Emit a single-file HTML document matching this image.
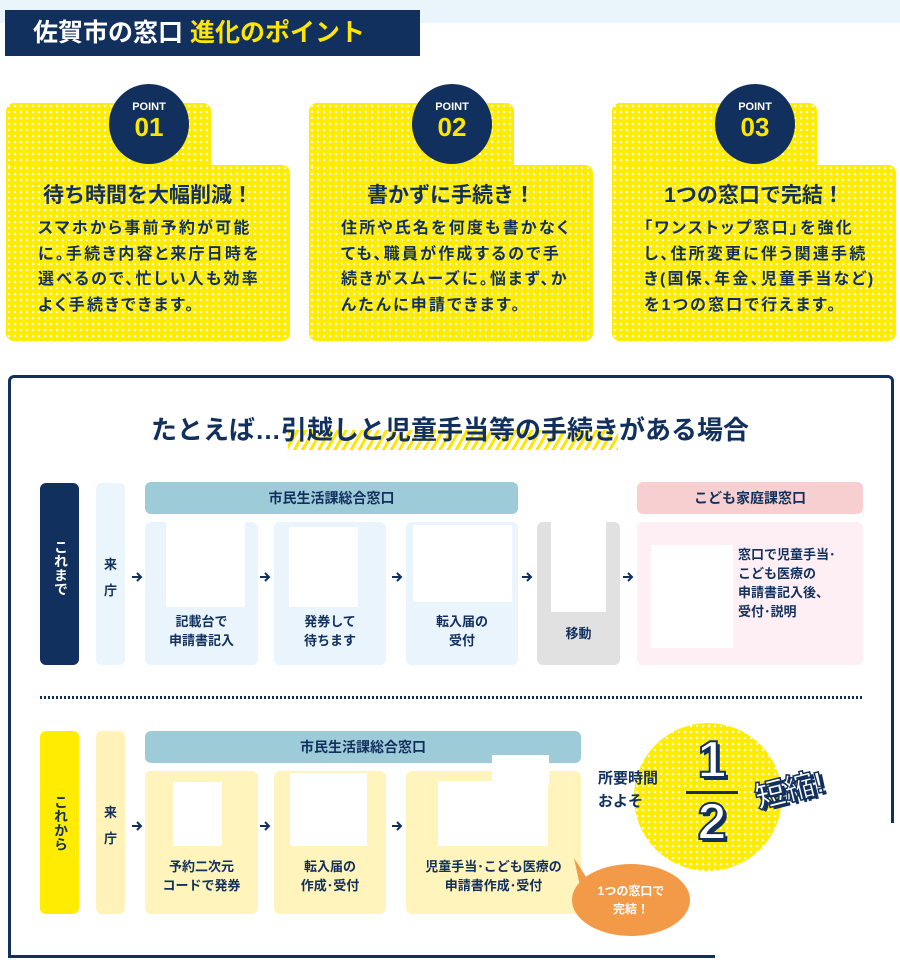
<!DOCTYPE html>
<html><head><meta charset="utf-8"><style>
*{margin:0;padding:0;box-sizing:border-box}
body{width:900px;height:964px;background:#fff;position:relative;overflow:hidden;font-family:"Liberation Sans","Noto Sans CJK JP",sans-serif;color:#12305e;font-weight:bold}
.a{position:absolute}
.dot{background-color:#ffec00;background-image:radial-gradient(circle,#fff 1px,transparent 1.4px);background-size:6px 6px}
.card{position:absolute;top:103px;width:284px;height:238px}
.card .p1{position:absolute;left:0;top:0;width:205px;height:238px;border-radius:8px}
.card .p2{position:absolute;left:0;top:62px;width:284px;height:176px;border-radius:8px}
.circ{position:absolute;left:103px;top:-19px;width:80px;height:80px;border-radius:50%;background:#12305e;color:#fff;text-align:center}
.circ .s{font-size:11px;margin-top:17px;line-height:12px}
.circ .n{font-size:26px;line-height:28px;color:#ffe600}
.card h3{position:absolute;left:0;width:284px;top:76px;text-align:center;font-size:21px}
.card p{position:absolute;left:32px;top:113px;width:250px;text-align:left;font-size:16px;line-height:25.5px;letter-spacing:2.2px;font-weight:bold;white-space:nowrap;font-feature-settings:"palt"}
.box{position:absolute;border-radius:6px}
.lbl{font-size:13px;text-align:center;line-height:19px}
.wh{position:absolute;background:#fff}
.ar{position:absolute;width:12px;height:10px}
</style></head><body>
<svg width="0" height="0" style="position:absolute"><defs><symbol id="arr" viewBox="0 0 12 10"><path d="M1 5H10M6 1L10 5L6 9" stroke="#12305e" stroke-width="2" fill="none"/></symbol></defs></svg>
<div class="a" style="left:0;top:0;width:900px;height:23px;background:#eaf5fb"></div>
<div class="a" style="left:5px;top:10px;width:415px;height:46px;background:#12305e;color:#fff;font-size:25px;line-height:46px;padding-left:28px">佐賀市の窓口 <span style="color:#ffe600">進化のポイント</span></div>

<div class="card" style="left:6px"><div class="p1 dot"></div><div class="p2 dot"></div><div class="circ"><div class="s">POINT</div><div class="n">01</div></div><h3>待ち時間を大幅削減！</h3><p>スマホから事前予約が可能<br>に。手続き内容と来庁日時を<br>選べるので、忙しい人も効率<br>よく手続きできます。</p></div>
<div class="card" style="left:309px"><div class="p1 dot"></div><div class="p2 dot"></div><div class="circ"><div class="s">POINT</div><div class="n">02</div></div><h3>書かずに手続き！</h3><p>住所や氏名を何度も書かなく<br>ても、職員が作成するので手<br>続きがスムーズに。悩まず、か<br>んたんに申請できます。</p></div>
<div class="card" style="left:612px"><div class="p1 dot"></div><div class="p2 dot"></div><div class="circ"><div class="s">POINT</div><div class="n">03</div></div><h3>1つの窓口で完結！</h3><p>「ワンストップ窓口」を強化<br>し、住所変更に伴う関連手続<br>き(国保、年金、児童手当など)<br>を1つの窓口で行えます。</p></div>

<div class="a" style="left:8px;top:375px;width:886px;height:448px;border:3px solid #12305e;border-bottom:none;border-radius:6px 6px 0 0"></div>
<div class="a" style="left:8px;top:820px;width:3px;height:138px;background:#12305e"></div>
<div class="a" style="left:8px;top:955px;width:707px;height:3px;background:#12305e"></div>

<div class="a" style="left:288px;top:430px;width:330px;height:20px;background:repeating-linear-gradient(120deg,#ffe600 0 3px,transparent 3px 7px)"></div>
<div class="a" style="left:0;top:412px;width:900px;text-align:center;font-size:26px;line-height:36px">たとえば…引越しと児童手当等の手続きがある場合</div>

<div class="box" style="left:40px;top:483px;width:39px;height:182px;background:#12305e"></div>
<div class="a" style="left:50px;top:540px;width:20px;color:#fff;font-size:14px;line-height:18px;writing-mode:vertical-rl">これまで</div>
<div class="box" style="left:96px;top:483px;width:29px;height:182px;background:#eaf5fc"></div>
<div class="a lbl" style="left:96px;top:552px;width:29px;line-height:26px">来<br>庁</div>
<div class="box" style="left:145px;top:482px;width:373px;height:32px;background:#9ecbd8"></div>
<div class="a lbl" style="left:145px;top:489px;width:373px;font-size:14px">市民生活課総合窓口</div>
<div class="box" style="left:145px;top:522px;width:113px;height:143px;background:#e9f4fc"></div>
<div class="wh" style="left:166px;top:522px;width:79px;height:85px"></div>
<div class="a lbl" style="left:145px;top:612px;width:113px">記載台で<br>申請書記入</div>
<div class="box" style="left:274px;top:522px;width:112px;height:143px;background:#e9f4fc"></div>
<div class="wh" style="left:289px;top:527px;width:69px;height:80px"></div>
<div class="a lbl" style="left:274px;top:612px;width:112px">発券して<br>待ちます</div>
<div class="box" style="left:406px;top:522px;width:112px;height:143px;background:#e9f4fc"></div>
<div class="wh" style="left:413px;top:525px;width:99px;height:77px"></div>
<div class="a lbl" style="left:406px;top:612px;width:112px">転入届の<br>受付</div>
<div class="box" style="left:537px;top:522px;width:83px;height:143px;background:#e1e1e1"></div>
<div class="wh" style="left:551px;top:522px;width:55px;height:90px"></div>
<div class="a lbl" style="left:537px;top:624px;width:83px">移動</div>
<div class="box" style="left:637px;top:482px;width:226px;height:32px;background:#f7cfd1"></div>
<div class="a lbl" style="left:637px;top:489px;width:226px;font-size:14px">こども家庭課窓口</div>
<div class="box" style="left:637px;top:522px;width:226px;height:143px;background:#fdeff4"></div>
<div class="wh" style="left:651px;top:545px;width:82px;height:103px"></div>
<div class="a" style="left:738px;top:545px;font-size:13px;line-height:19px">窓口で児童手当･<br>こども医療の<br>申請書記入後、<br>受付･説明</div>
<svg class="ar" style="left:131px;top:572px"><use href="#arr"/></svg>
<svg class="ar" style="left:259px;top:572px"><use href="#arr"/></svg>
<svg class="ar" style="left:391px;top:572px"><use href="#arr"/></svg>
<svg class="ar" style="left:521px;top:572px"><use href="#arr"/></svg>
<svg class="ar" style="left:622px;top:572px"><use href="#arr"/></svg>

<div class="a" style="left:40px;top:696px;width:822px;height:3px;background:repeating-linear-gradient(90deg,#12305e 0 2px,transparent 2px 4px)"></div>

<div class="box" style="left:40px;top:731px;width:39px;height:183px;background:#ffec00"></div>
<div class="a" style="left:50px;top:795px;width:20px;font-size:14px;line-height:18px;writing-mode:vertical-rl">これから</div>
<div class="box" style="left:96px;top:731px;width:29px;height:183px;background:#fff3ba"></div>
<div class="a lbl" style="left:96px;top:800px;width:29px;line-height:26px">来<br>庁</div>
<div class="box" style="left:145px;top:731px;width:436px;height:32px;background:#9ecbd8"></div>
<div class="a lbl" style="left:145px;top:738px;width:436px;font-size:14px">市民生活課総合窓口</div>
<div class="box" style="left:145px;top:771px;width:113px;height:143px;background:#fff4bb"></div>
<div class="wh" style="left:173px;top:782px;width:49px;height:64px"></div>
<div class="a lbl" style="left:145px;top:857px;width:113px">予約二次元<br>コードで発券</div>
<div class="box" style="left:274px;top:771px;width:112px;height:143px;background:#fff4bb"></div>
<div class="wh" style="left:290px;top:773px;width:77px;height:73px"></div>
<div class="a lbl" style="left:274px;top:857px;width:112px">転入届の<br>作成･受付</div>
<div class="box" style="left:406px;top:771px;width:175px;height:143px;background:#fff4bb"></div>
<div class="wh" style="left:438px;top:781px;width:110px;height:65px"></div>
<div class="wh" style="left:492px;top:755px;width:57px;height:30px"></div>
<div class="a lbl" style="left:406px;top:857px;width:175px">児童手当･こども医療の<br>申請書作成･受付</div>
<svg class="ar" style="left:131px;top:821px"><use href="#arr"/></svg>
<svg class="ar" style="left:259px;top:821px"><use href="#arr"/></svg>
<svg class="ar" style="left:391px;top:821px"><use href="#arr"/></svg>

<div class="a" style="left:572px;top:864px;width:118px;height:72px;border-radius:50%;background:#f29a48"></div>
<svg class="a" style="left:566px;top:858px" width="24" height="30"><path d="M8 0L22 22L14 28Z" fill="#f29a48"/></svg>
<div class="a lbl" style="left:572px;top:882px;width:118px;color:#fff;font-size:12px;line-height:18px">1つの窓口で<br>完結！</div>

<div class="a dot" style="left:634px;top:723px;width:148px;height:148px;border-radius:50%"></div>
<div class="a" style="left:598px;top:767px;font-size:15px;line-height:23px">所要時間<br>およそ</div>
<div class="a" style="left:688px;top:728px;width:48px;text-align:center;font-size:52px;line-height:64px;color:#fff;-webkit-text-stroke:2px #12305e;text-shadow:3px 3px 0 #12305e">1</div>
<div class="a" style="left:686px;top:791px;width:52px;height:3px;background:#12305e"></div>
<div class="a" style="left:688px;top:790px;width:48px;text-align:center;font-size:52px;line-height:64px;color:#fff;-webkit-text-stroke:2px #12305e;text-shadow:3px 3px 0 #12305e">2</div>
<div class="a" style="left:754px;top:765px;font-size:30px;color:#fff;-webkit-text-stroke:1.5px #12305e;text-shadow:3px 3px 0 #12305e;transform:rotate(-14deg)">短縮!</div>
</body></html>
